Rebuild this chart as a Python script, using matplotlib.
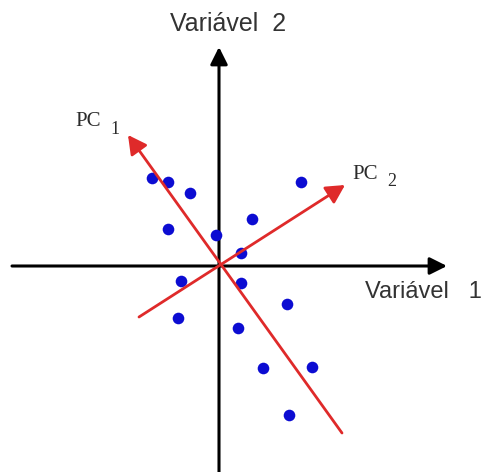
import matplotlib.pyplot as plt
import numpy as np

# Observations in the (Variável 1, Variável 2) plane
var1 = [-6.7, -5.1, -2.9, -5.1, -0.3, 3.3, 8.2, 2.2, -3.8, 2.2, -4.1, 6.8, 1.9, 4.4, 9.3, 7.0]
var2 = [8.8, 8.4, 7.3, 3.7, 3.1, 4.7, 8.4, 1.3, -1.5, -1.7, -5.2, -3.8, -6.2, -10.2, -10.1, -14.9]

# Principal component directions: (tail, tip) of each red arrow
pc1_tail = (12.3, -16.7)
pc1_tip = (-9.1, 13.1)
pc2_tail = (-8.0, -5.1)
pc2_tip = (12.6, 8.1)

axis_labels = ['Variável   1', 'Variável  2']
pc_labels = [('PC', '1'), ('PC', '2')]

# Canvas
fig = plt.figure(figsize=(4.86, 4.72), dpi=100)
ax = fig.add_axes([0, 0, 1, 1])
ax.set_xlim(-21.9, 26.7)
ax.set_ylim(-20.6, 26.6)
ax.axis('off')

# Coordinate axes with arrow heads
black_arrow = dict(arrowstyle='-|>,head_length=0.4,head_width=0.2', lw=2.2, color='black',
                   mutation_scale=26, shrinkA=0, shrinkB=0)
ax.annotate('', xy=(22.8, 0), xytext=(-20.7, 0), arrowprops=black_arrow)
ax.annotate('', xy=(0, 21.9), xytext=(0, -20.6), arrowprops=black_arrow)

# Data points
ax.scatter(var1, var2, s=70, color='#0c0cd2', zorder=3, linewidths=0)

# Principal component arrows
red_arrow = dict(arrowstyle='-|>,head_length=0.45,head_width=0.24', lw=2, color='#df2a2a',
                 mutation_scale=25, shrinkA=0, shrinkB=0)
ax.annotate('', xy=pc1_tip, xytext=pc1_tail, arrowprops=red_arrow, zorder=4)
ax.annotate('', xy=pc2_tip, xytext=pc2_tail, arrowprops=red_arrow, zorder=4)

# Axis titles
ax.text(14.6, -2.6, axis_labels[0], fontsize=17, family='Liberation Sans',
        color='#333333', ha='left', va='center')
ax.text(0.9, 24.2, axis_labels[1], fontsize=18, family='Liberation Sans',
        color='#333333', ha='center', va='center')

# Component labels with a lowered index
for (name, idx), (x, y) in zip(pc_labels, [(-14.4, 14.0), (13.3, 8.7)]):
    ax.text(x, y, name, fontsize=15, family='Liberation Serif', color='#2b2b2b',
            ha='left', va='baseline')
    ax.text(x + 3.5, y - 0.75, idx, fontsize=13, family='Liberation Serif', color='#2b2b2b',
            ha='left', va='baseline')

fig.savefig('out.png', dpi=100)
